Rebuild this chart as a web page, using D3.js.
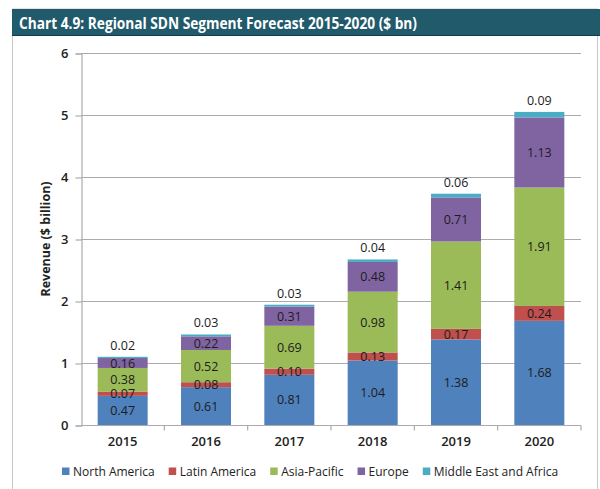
<!DOCTYPE html>
<html lang="en">
<head>
<meta charset="UTF-8">
<title>Regional SDN Segment Forecast</title>
<script src="https://cdnjs.cloudflare.com/ajax/libs/d3/7.8.5/d3.min.js"></script>
<style>
    body { margin: 0; background: #fff; }
    svg { display: block; font-family: "Open Sans", Arial, sans-serif; }
</style>
</head>
<body>
<svg id="chart" width="600" height="489"></svg>
<script>
    // data
    const years = ["2015", "2016", "2017", "2018", "2019", "2020"];
    const regions = ["North America", "Latin America", "Asia-Pacific", "Europe", "Middle East and Africa"];
    const northAmerica = [0.47, 0.61, 0.81, 1.04, 1.38, 1.68];
    const latinAmerica = [0.07, 0.08, 0.10, 0.13, 0.17, 0.24];
    const asiaPacific  = [0.38, 0.52, 0.69, 0.98, 1.41, 1.91];
    const europe       = [0.16, 0.22, 0.31, 0.48, 0.71, 1.13];
    const middleEast   = [0.02, 0.03, 0.03, 0.04, 0.06, 0.09];
    const yTicks = [0, 1, 2, 3, 4, 5, 6];
    const colors = ["#4f81bd", "#c0504d", "#9bbb59", "#8064a2", "#4bacc6"];

    const series = [northAmerica, latinAmerica, asiaPacific, europe, middleEast];
    const rows = years.map((y, i) => {
        const r = { year: y };
        regions.forEach((name, k) => r[name] = series[k][i]);
        return r;
    });

    const svg = d3.select("#chart");
    const W = 600, H = 489;
    const margin = { left: 81, right: 19, top: 53, bottom: 64 };

    // frame + title bar
    svg.append("rect").attr("x", 12.5).attr("y", 9).attr("width", 585).attr("height", H)
        .attr("fill", "#fff").attr("stroke", "#c8c8c8");
    svg.append("rect").attr("x", 12).attr("y", 9).attr("width", 588).attr("height", 27)
        .attr("fill", "#215a6b");
    svg.append("line").attr("x1", 12).attr("x2", 600).attr("y1", 35.5).attr("y2", 35.5)
        .attr("stroke", "#0f3d4b");
    svg.append("text")
        .attr("x", 19).attr("y", 29)
        .attr("fill", "#fff")
        .attr("font-size", 16).attr("font-weight", "bold")
        .attr("textLength", 398).attr("lengthAdjust", "spacingAndGlyphs")
        .text("Chart 4.9: Regional SDN Segment Forecast 2015-2020 ($ bn)");

    const x = d3.scaleBand()
        .domain(years)
        .range([margin.left, W - margin.right])
        .paddingInner(0.4).paddingOuter(0.2);

    const y = d3.scaleLinear()
        .domain([0, 6])
        .range([425, margin.top]);

    // gridlines
    svg.append("g").selectAll("line")
        .data(yTicks.slice(1))
        .join("line")
        .attr("x1", margin.left).attr("x2", W - margin.right)
        .attr("y1", d => y(d) + 0.5).attr("y2", d => y(d) + 0.5)
        .attr("stroke", "#ababab").attr("stroke-width", 1.2);

    // y axis
    const yAxis = svg.append("g")
        .attr("transform", `translate(${margin.left + 0.5},0.5)`)
        .call(d3.axisLeft(y).tickValues(yTicks).tickSize(6).tickPadding(7).tickFormat(d3.format("d")));
    yAxis.select(".domain").attr("stroke", "#ababab").attr("stroke-width", 1.2);
    yAxis.selectAll(".tick line").attr("stroke", "#ababab").attr("stroke-width", 1.2);
    yAxis.selectAll("text").attr("font-size", 13).attr("font-weight", 600).attr("fill", "#222")
        .attr("font-family", "Open Sans, Arial, sans-serif");

    // stacked bars
    const stack = d3.stack().keys(regions)(rows);
    const layers = svg.append("g").selectAll("g")
        .data(stack)
        .join("g")
        .attr("fill", (d, i) => colors[i]);

    layers.selectAll("rect")
        .data(d => d)
        .join("rect")
        .attr("x", d => x(d.data.year))
        .attr("width", x.bandwidth())
        .attr("y", d => y(d[1]))
        .attr("height", d => y(d[0]) - y(d[1]));

    // x axis
    const xAxis = svg.append("g")
        .attr("transform", `translate(0,${y(0) + 0.5})`);
    xAxis.append("line")
        .attr("x1", margin.left).attr("x2", W - margin.right)
        .attr("stroke", "#ababab").attr("stroke-width", 1.2);
    const step = x.step();
    xAxis.selectAll(".xtick")
        .data(years)
        .join("line")
        .attr("class", "xtick")
        .attr("x1", d => x(d) + x.bandwidth() / 2 + step / 2)
        .attr("x2", d => x(d) + x.bandwidth() / 2 + step / 2)
        .attr("y1", 0).attr("y2", 5)
        .attr("stroke", "#ababab").attr("stroke-width", 1.2);
    xAxis.selectAll(".xlab")
        .data(years)
        .join("text")
        .attr("class", "xlab")
        .attr("x", d => x(d) + x.bandwidth() / 2)
        .attr("y", 20)
        .attr("text-anchor", "middle")
        .attr("font-size", 13).attr("font-weight", 600).attr("fill", "#222")
        .text(d => d);

    // value labels
    stack.forEach((layer, k) => {
        svg.append("g").selectAll("text")
            .data(layer)
            .join("text")
            .attr("x", d => x(d.data.year) + x.bandwidth() / 2)
            .attr("y", d => k === 4 ? y(d[1]) - 7 : (y(d[0]) + y(d[1])) / 2 + 4.5)
            .attr("text-anchor", "middle")
            .attr("font-size", 12.5)
            .attr("fill", "#1c1c1c")
            .text(d => (d[1] - d[0]).toFixed(2));
    });

    // y title
    svg.append("text")
        .attr("transform", `translate(50,${y(3)}) rotate(-90)`)
        .attr("text-anchor", "middle")
        .attr("font-size", 12.5).attr("font-weight", "bold").attr("fill", "#222")
        .text("Revenue ($ billion)");

    // legend
    const legend = svg.append("g").attr("transform", "translate(62,471)");
    let lx = 0;
    regions.forEach((name, i) => {
        const g = legend.append("g").attr("transform", `translate(${lx},0)`);
        g.append("rect").attr("x", 0).attr("y", -3.5).attr("width", 7.5).attr("height", 7.5)
            .attr("fill", colors[i]);
        const t = g.append("text").attr("x", 11).attr("y", 4.5)
            .attr("font-size", 12).attr("fill", "#222").text(name);
        lx += 11 + t.node().getComputedTextLength() + 14;
    });
</script>
</body>
</html>
